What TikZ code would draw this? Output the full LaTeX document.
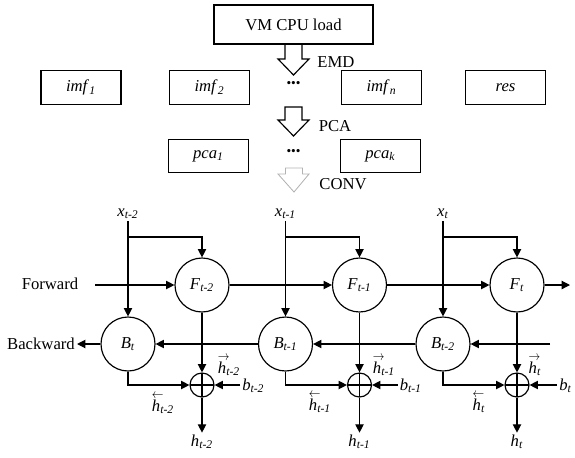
\documentclass[tikz,border=0pt]{standalone}
\usepackage{amsmath}
\usepackage{fontspec}
\setmainfont{Liberation Serif}
\usetikzlibrary{arrows.meta,positioning}

\newcommand{\tsub}[1]{\textsubscript{\textit{#1}}}
\newcommand{\hfwd}[1]{\rlap{\raisebox{7.5pt}{\scalebox{0.7}[0.8]{$\rightarrow$}}}\textit{h}\tsub{#1}}
\newcommand{\hbwd}[1]{\rlap{\raisebox{7.5pt}{\scalebox{0.7}[0.8]{$\leftarrow$}}}\textit{h}\tsub{#1}}

\begin{document}
\begin{tikzpicture}[
  x=0.6pt, y=-0.6pt,
  line width=0.7pt,
  every node/.style={font=\fontsize{10}{12}\selectfont, inner sep=1pt},
  box/.style={draw, rectangle, minimum width=48pt, minimum height=20pt},
  cell/.style={draw, circle, minimum size=32.4pt, inner sep=0pt},
  sum/.style={draw, circle, minimum size=14.4pt, inner sep=0pt,
    path picture={\draw (path picture bounding box.north) -- (path picture bounding box.south)
      (path picture bounding box.west) -- (path picture bounding box.east);}},
  dots/.style={font=\footnotesize},
  >={Triangle[length=5pt,width=5pt]}
]
\useasboundingbox (0,0) rectangle (575,457);

% decomposition part
\node[box, minimum width=95.4pt, minimum height=23.4pt] (cpu) at (293.5,24.5) {VM CPU load};
\node[box] (imf1) at (81,87.5) {\textit{imf}\tsub{1}};
\node[box] (imf2) at (209.5,87.5) {\textit{imf}\tsub{2}};
\node[box] (imfn) at (381.5,87.5) {\textit{imf}\tsub{n}};
\node[box] (res) at (505.5,87.5) {\textit{res}};
\node[box] (pca1) at (208.5,156) {\textit{pca}\tsub{1}};
\node[box] (pcak) at (380.5,156) {\textit{pca}\tsub{k}};
\node[dots] (dimf) at (293.5,84) {\textbullet\textbullet\textbullet};
\node[dots] (dpca) at (293.5,152) {\textbullet\textbullet\textbullet};

\draw (285,44) -- (285,59) -- (278,59) -- (293.5,75) -- (309,59) -- (302,59) -- (302,44);
\draw (285,107) -- (302,107) -- (302,120) -- (309,120) -- (293.5,136) -- (278,120) -- (285,120) -- cycle;
\draw[gray!60, line width=0.5pt] (285.5,168) -- (302.5,168) -- (302.5,174) -- (309,174) -- (294,192) -- (278,174) -- (285.5,174) -- cycle;
\node (emd) at (336,62) {EMD};
\node (pca) at (335,126) {PCA};
\node (conv) at (343,184) {CONV};

% bidirectional part
\node[anchor=south] (x0) at (128,221) {\textit{x}\tsub{t-2}};
\node[anchor=south] (x1) at (285.5,221) {\textit{x}\tsub{t-1}};
\node[anchor=south] (x2) at (443,221) {\textit{x}\tsub{t}};

\node[cell] (F0) at (202,285) {\textit{F}\tsub{t-2}};
\node[cell] (F1) at (359.5,285) {\textit{F}\tsub{t-1}};
\node[cell] (F2) at (517,285) {\textit{F}\tsub{t}};
\node[cell] (B0) at (128,344) {\textit{B}\tsub{t}};
\node[cell] (B1) at (285.5,344) {\textit{B}\tsub{t-1}};
\node[cell] (B2) at (443,344) {\textit{B}\tsub{t-2}};

\node[sum] (s0) at (202,385) {};
\node[sum] (s1) at (359.5,385) {};
\node[sum] (s2) at (517,385) {};

\node (fw) at (50,284) {Forward};
\node (bw) at (41,344) {Backward};
\coordinate (fin) at (95,285);
\coordinate (fout) at (570,285);
\coordinate (bin) at (550,344);

\node[anchor=west] (b0) at (240,386) {\textit{b}\tsub{t-2}};
\node[anchor=west] (b1) at (397.5,386) {\textit{b}\tsub{t-1}};
\node[anchor=west] (b2) at (557,386) {\textit{b}\tsub{t}};

\node (hf0) at (229,366) {\hfwd{t-2}};
\node (hf1) at (384,366) {\hfwd{t-1}};
\node (hf2) at (535,366) {\hfwd{t}};
\node (hb0) at (163,404) {\hbwd{t-2}};
\node (hb1) at (320,403) {\hbwd{t-1}};
\node (hb2) at (479,403) {\hbwd{t}};

\node (h0) at (202,442) {\textit{h}\tsub{t-2}};
\node (h1) at (359.5,442) {\textit{h}\tsub{t-1}};
\node (h2) at (517,442) {\textit{h}\tsub{t}};

\coordinate (j0) at (128,237);
\coordinate (j1) at (285.5,237);
\coordinate (j2) at (443,237);

\foreach \i in {0,1,2} {
  \draw[->] (x\i) -- (B\i);
  \draw[->] (j\i) -| (F\i);
  \draw[->] (F\i) -- (s\i);
  \draw[->] (B\i) |- (s\i);
  \draw[->] (b\i.west |- s\i) -- (s\i);
  \draw[->] (s\i) -- (h\i);
}

\draw[->] (fin) -- (F0);
\draw[->] (F0) -- (F1);
\draw[->] (F1) -- (F2);
\draw[->] (F2) -- (fout);
\draw[->] (bin) -- (B2);
\draw[->] (B2) -- (B1);
\draw[->] (B1) -- (B0);
\draw[->] (B0) -- (bw);
\end{tikzpicture}
\end{document}
